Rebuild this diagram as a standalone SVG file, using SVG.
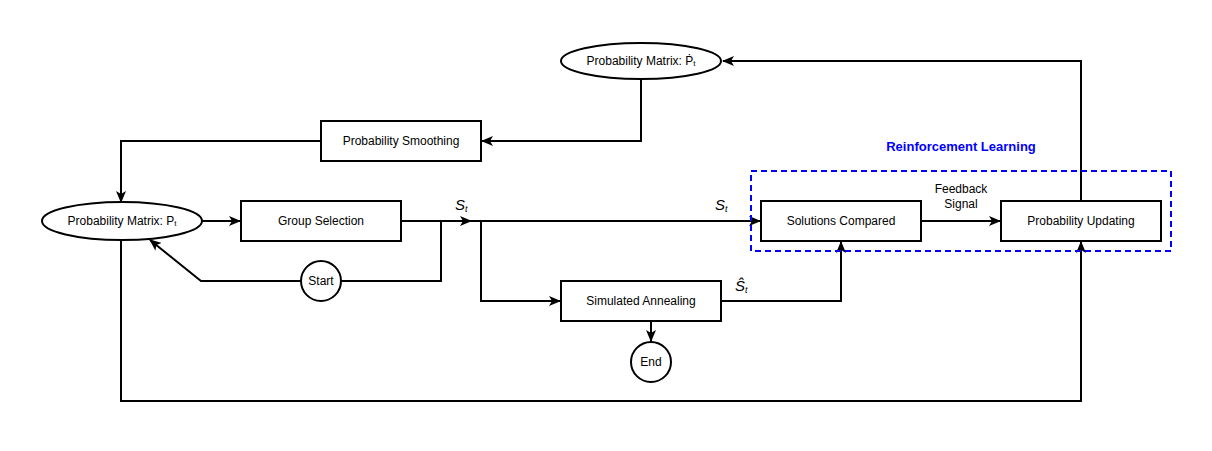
<svg xmlns="http://www.w3.org/2000/svg" width="1212" height="451" viewBox="0 0 1212 451">
<style>
.n{fill:#fff;stroke:#000;stroke-width:2}
.t{font-family:"Liberation Sans",Arial,sans-serif;font-size:12px;fill:#000;text-anchor:middle}
.e{fill:none;stroke:#000;stroke-width:2}
.m{font-family:"Liberation Sans",Arial,sans-serif;font-style:italic;font-size:15px;fill:#000}
</style>
<defs>
<marker id="a" viewBox="0 0 12 10" refX="11" refY="5" markerWidth="12" markerHeight="10" markerUnits="userSpaceOnUse" orient="auto">
<path d="M0,0 L12,5 L0,10 L3,5 Z" fill="#000"/>
</marker>
</defs>
<rect width="1212" height="451" fill="#fff"/>
<g id="connectors">
<path class="e" d="M641,78 V141 H482" marker-end="url(#a)"/>
<path class="e" d="M321,141 H121 V202" marker-end="url(#a)"/>
<path class="e" d="M202,221 H240" marker-end="url(#a)"/>
<path class="e" d="M401,221 H471" marker-end="url(#a)"/>
<path class="e" d="M471,221 H760" marker-end="url(#a)"/>
<path class="e" d="M441,221 V281 H341"/>
<path class="e" d="M301,281 H201 L150,240" marker-end="url(#a)"/>
<path class="e" d="M481,221 V301 H560" marker-end="url(#a)"/>
<path class="e" d="M721,301 H841 V242" marker-end="url(#a)"/>
<path class="e" d="M651,321 V341" marker-end="url(#a)"/>
<path class="e" d="M921,221 H1000" marker-end="url(#a)"/>
<path class="e" d="M1081,201 V61 H723" marker-end="url(#a)"/>
<path class="e" d="M121,240 V401 H1081 V242" marker-end="url(#a)"/>
<text class="m" x="455" y="210">S<tspan font-size="9" dy="2">t</tspan></text>
<text class="m" x="715" y="210">S<tspan font-size="9" dy="2">t</tspan></text>
<text class="m" x="735" y="291">Ŝ<tspan font-size="9" dy="2">t</tspan></text>
<text class="t" x="961" y="193">Feedback</text>
<text class="t" x="961" y="208">Signal</text>
</g>
<g id="rl">
<rect x="751" y="171" width="420" height="80" fill="none" stroke="#0000ff" stroke-width="2" stroke-dasharray="6,4"/>
<text x="961" y="151" font-family="Liberation Sans,Arial,sans-serif" font-size="13" font-weight="bold" fill="#0000ff" text-anchor="middle">Reinforcement Learning</text>
</g>
<g id="pm-dot">
<ellipse class="n" cx="641" cy="61" rx="80" ry="18"/>
<text class="t" x="641" y="65">Probability Matrix: Ṗ<tspan font-size="8" dy="1">t</tspan></text>
</g>
<g id="pm">
<ellipse class="n" cx="122" cy="221" rx="80" ry="19"/>
<text class="t" x="122" y="225">Probability Matrix: P<tspan font-size="8" dy="1">t</tspan></text>
</g>
<g id="smoothing">
<rect class="n" x="321" y="121" width="160" height="40"/>
<text class="t" x="401" y="145">Probability Smoothing</text>
</g>
<g id="group">
<rect class="n" x="241" y="201" width="160" height="40"/>
<text class="t" x="321" y="225">Group Selection</text>
</g>
<g id="sa">
<rect class="n" x="561" y="281" width="160" height="40"/>
<text class="t" x="641" y="305">Simulated Annealing</text>
</g>
<g id="compared">
<rect class="n" x="761" y="201" width="160" height="40"/>
<text class="t" x="841" y="225">Solutions Compared</text>
</g>
<g id="updating">
<rect class="n" x="1001" y="201" width="160" height="40"/>
<text class="t" x="1081" y="225">Probability Updating</text>
</g>
<g id="start">
<circle class="n" cx="321" cy="281" r="20"/>
<text class="t" x="321" y="285">Start</text>
</g>
<g id="end">
<circle class="n" cx="651" cy="362" r="20"/>
<text class="t" x="651" y="366">End</text>
</g>
</svg>
